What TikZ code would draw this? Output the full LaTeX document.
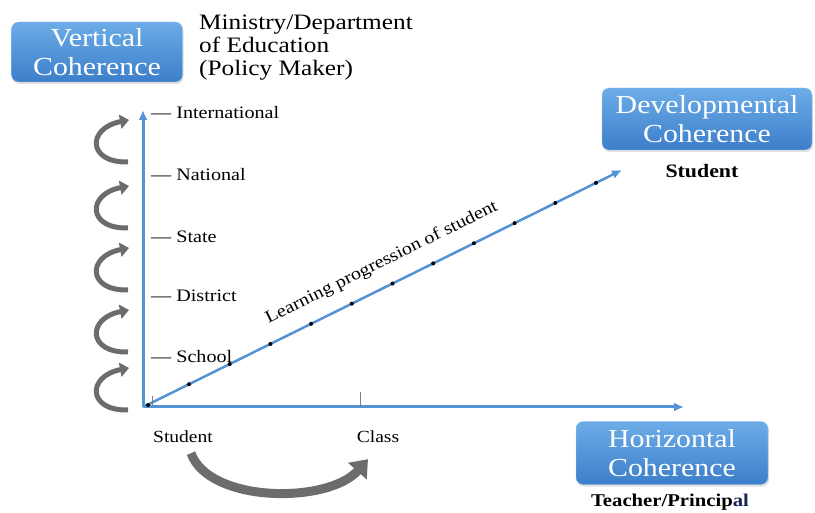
\documentclass[tikz,border=0pt]{standalone}
\usepackage{fontspec}
\setmainfont{Liberation Serif}[FakeStretch=1.15]
\usetikzlibrary{arrows.meta, shadows}

\definecolor{axisblue}{RGB}{84,146,214}
\definecolor{boxtop}{RGB}{108,172,232}
\definecolor{boxbot}{RGB}{60,126,202}
\definecolor{arrowgray}{RGB}{108,108,108}
\definecolor{navy}{RGB}{25,35,85}

\begin{document}
\begin{tikzpicture}[x=1pt,y=-1pt]
\useasboundingbox (0,0) rectangle (815,513);

% Define styles
\tikzstyle{cbox}=[rounded corners=7pt, top color=boxtop, bottom color=boxbot, draw=boxtop!60!white, text=white, align=center, inner sep=0pt, font=\fontsize{26}{29}\selectfont, drop shadow={opacity=0.25, shadow xshift=1pt, shadow yshift=-2pt}]
\tikzstyle{axis}=[axisblue, line width=3pt, -{Latex[length=10pt,width=9pt]}]
\tikzstyle{lvl}=[font=\fontsize{17.5}{20}\selectfont, anchor=west, inner sep=0pt]
\tikzstyle{loopy}=[arrowgray, line width=5pt, -{Triangle[width=14pt,length=9pt]}]
\tikzstyle{lbl}=[font=\fontsize{17}{20}\selectfont, inner sep=0pt, text=black]

% Boxes and their captions
\node[cbox, minimum width=171pt, minimum height=60pt] (vert) at (97,52) {Vertical\\Coherence};
\node[cbox, minimum width=210pt, minimum height=62pt] (devel) at (707,119) {Developmental\\Coherence};
\node[cbox, minimum width=192pt, minimum height=63pt] (horiz) at (672,453) {Horizontal\\Coherence};

\node[anchor=north west, align=left, inner sep=0pt, font=\fontsize{22}{23}\selectfont] (ministry) at (199,15) {Ministry/Department\\of Education\\(Policy Maker)};
\node[inner sep=0pt, font=\bfseries\fontsize{19}{22}\selectfont] (pupil) at (702,171) {Student};
\node[inner sep=0pt, font=\bfseries\fontsize{18}{21}\selectfont] (teacher) at (670,502) {Teacher/Princip\textcolor{navy}{al}};

% Axes
\coordinate (O) at (143,407);
\coordinate (ytop) at (143,110);
\coordinate (xend) at (684,407);
\coordinate (dend) at (622,170);

\draw[axis] (O) -- (ytop);
\draw[axis] (O) -- (xend);
\draw[axis, line width=2.5pt] (O) -- (dend)
  node[pos=0.52, sloped, above=14pt, lbl, font=\fontsize{17.5}{20}\selectfont] (lp) {Learning progression of student};

% Ticks
\draw[gray, line width=0.8pt] (360,392) -- (360,407);
\draw[gray, line width=0.8pt] (152,396) -- (152,406);

% Dots on the learning line
\fill (148,405) circle (2pt);
\foreach \k in {0,...,10} {
  \pgfmathsetmacro{\x}{189+40.7*\k}
  \fill (\x,{407-0.4948*(\x-143)}) circle (2pt);
}

% Levels
\foreach \y/\name in {113/International, 175/National, 237/State, 296/District, 357/School} {
  \node[lvl] (\name) at (151,\y) {\textemdash\ \name};
}

% Loop arrows on the left
\foreach \h in {120,186,248,310,368} {
  \draw[loopy] (128,\h+42) .. controls (87,\h+43) and (87,\h+8) .. (129,\h);
}

% Student to class
\node[lbl] (stud) at (183,437) {Student};
\node[lbl] (cls) at (378,437) {Class};
\draw[arrowgray, line width=9pt, -{Triangle[width=24pt,length=16pt]}]
  ([shift={(8,10)}]stud.south) .. controls +(18,50) and +(-40,45) .. ([shift={(-10,16)}]cls.south);

\end{tikzpicture}
\end{document}
